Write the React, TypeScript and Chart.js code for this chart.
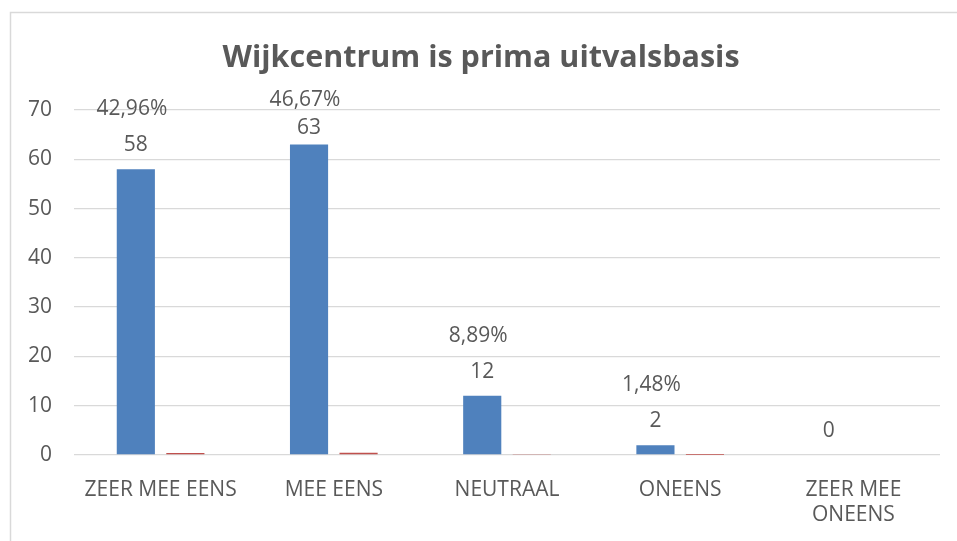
import React, { useEffect, useRef } from "react";
import { Chart, registerables } from "chart.js";

Chart.register(...registerables);

const TITLE = "Wijkcentrum is prima uitvalsbasis";
const categories: (string | string[])[] = [
  "ZEER MEE EENS",
  "MEE EENS",
  "NEUTRAAL",
  "ONEENS",
  ["ZEER MEE", "ONEENS"],
];
const counts = [58, 63, 12, 2, 0];
const shares = [0.4296, 0.4667, 0.0889, 0.0148, 0];
const yTicksMin = 0;
const yTicksMax = 70;
const yTickStep = 10;

const TEXT = "#595959";
const FONT = "'Open Sans', 'Noto Sans', sans-serif";

const fmtPct = (v: number) => (v * 100).toFixed(2).replace(".", ",") + "%";

const overlay = {
  id: "overlay",
  beforeDraw(chart: any) {
    const ctx = chart.ctx;
    ctx.save();
    ctx.fillStyle = "#ffffff";
    ctx.fillRect(0, 0, chart.width, chart.height);
    ctx.strokeStyle = "#d9d9d9";
    ctx.lineWidth = 1.5;
    ctx.strokeRect(10.5, 12.5, chart.width + 20, chart.height + 20);
    ctx.restore();
  },
  afterDatasetsDraw(chart: any) {
    const ctx = chart.ctx;
    const y = chart.scales.y;
    const area = chart.chartArea;
    const meta0 = chart.getDatasetMeta(0);
    ctx.save();
    ctx.fillStyle = TEXT;
    ctx.textAlign = "center";
    ctx.textBaseline = "middle";
    ctx.font = `bold 30.5px ${FONT}`;
    ctx.fillText(TITLE, 481, 58);
    ctx.font = `21px ${FONT}`;
    counts.forEach((v, i) => {
      const bar = meta0.data[i];
      const ly = Math.max(y.getPixelForValue(v) - 24, area.top + 18);
      ctx.fillText(String(v), bar.x, ly);
      if (shares[i] > 0) {
        const py = Math.max(ly - 36, area.top - 10);
        ctx.fillText(fmtPct(shares[i]), bar.x - 4, py);
      }
    });
    ctx.restore();
  },
};

export default function App() {
  const ref = useRef<HTMLCanvasElement | null>(null);
  useEffect(() => {
    if (!ref.current) return;
    const chart = new Chart(ref.current, {
      type: "bar",
      data: {
        labels: categories as any,
        datasets: [
          {
            data: counts,
            backgroundColor: "#4F81BD",
            categoryPercentage: 0.572,
            barPercentage: 0.77,
          },
          {
            data: shares,
            backgroundColor: "#C0504D",
            categoryPercentage: 0.572,
            barPercentage: 0.77,
          },
        ],
      },
      options: {
        responsive: false,
        animation: false,
        layout: { padding: { top: 110, right: 17, left: 0, bottom: 0 } },
        plugins: {
          legend: { display: false },
          title: { display: false },
          tooltip: { enabled: false },
        },
        scales: {
          x: {
            grid: { display: false },
            border: { display: false },
            ticks: {
              color: TEXT,
              font: { family: FONT, size: 21 },
              padding: 14,
              maxRotation: 0,
              autoSkip: false,
            },
            afterFit: (s: any) => {
              s.height = 541 - 455;
            },
          },
          y: {
            min: yTicksMin,
            max: yTicksMax,
            ticks: {
              stepSize: yTickStep,
              color: TEXT,
              font: { family: FONT, size: 21 },
              padding: 22,
            },
            grid: { color: "#d9d9d9", lineWidth: 1.3, drawTicks: false },
            border: { display: false },
            afterFit: (s: any) => {
              s.width = 74;
            },
          },
        },
      },
      plugins: [overlay],
    });
    return () => chart.destroy();
  }, []);
  return (
    <div style={{ position: "fixed", left: 0, top: 0, width: 957, height: 541 }}>
      <canvas ref={ref} width={957} height={541} />
    </div>
  );
}
